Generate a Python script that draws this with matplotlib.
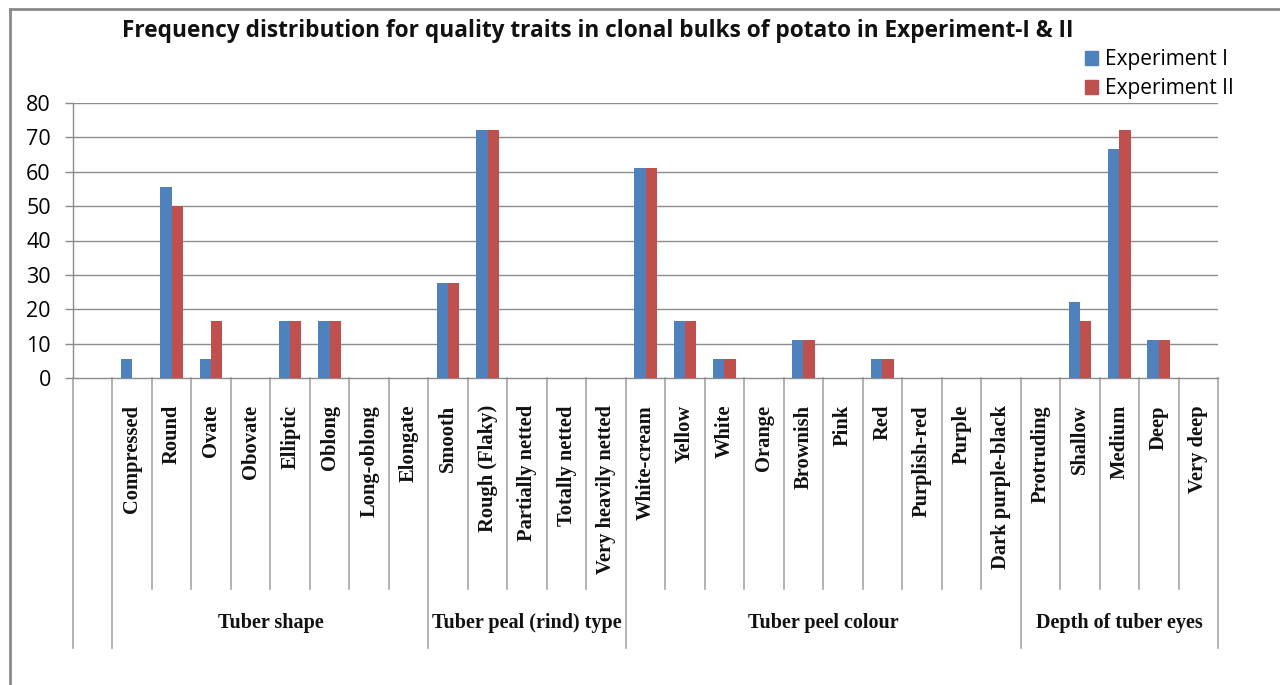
import matplotlib
matplotlib.use("Agg")
import matplotlib.pyplot as plt
import matplotlib.transforms as mtransforms
from matplotlib.patches import Patch

categories = ["", "Compressed", "Round", "Ovate", "Obovate", "Elliptic", "Oblong",
              "Long-oblong", "Elongate", "Smooth", "Rough (Flaky)", "Partially netted",
              "Totally netted", "Very heavily netted", "White-cream", "Yellow", "White",
              "Orange", "Brownish", "Pink", "Red", "Purplish-red", "Purple",
              "Dark purple-black", "Protruding", "Shallow", "Medium", "Deep", "Very deep"]
exp1 = [0, 5.56, 55.56, 5.56, 0, 16.67, 16.67, 0, 0, 27.78, 72.22, 0, 0, 0,
        61.11, 16.67, 5.56, 0, 11.11, 0, 5.56, 0, 0, 0, 0, 22.22, 66.67, 11.11, 0]
exp2 = [0, 0, 50.0, 16.67, 0, 16.67, 16.67, 0, 0, 27.78, 72.22, 0, 0, 0,
        61.11, 16.67, 5.56, 0, 11.11, 0, 5.56, 0, 0, 0, 0, 16.67, 72.22, 11.11, 0]
groups = ["", "Tuber shape", "Tuber peal (rind) type", "Tuber peel colour", "Depth of tuber eyes"]
group_sizes = [1, 8, 5, 10, 5]
series_names = ["Experiment I", "Experiment II"]
yticks = [0, 10, 20, 30, 40, 50, 60, 70, 80]

blue = "#4F81BD"
red = "#C0504D"
grid_c = "#8C8C8C"
serif = ["Liberation Serif", "DejaVu Serif"]
sans = ["Open Sans", "DejaVu Sans"]

fig = plt.figure(figsize=(12.8, 6.85), dpi=100)
W, H = 1280, 685
L, R, T, B = 73, 1218, 103, 378
ax = fig.add_axes([L / W, 1 - B / H, (R - L) / W, (B - T) / H])

n = len(categories)
xs = list(range(n))
bw = 1 / 3.5
ax.bar([x - bw / 2 for x in xs], exp1, width=bw, color=blue, zorder=3)
ax.bar([x + bw / 2 for x in xs], exp2, width=bw, color=red, zorder=3)

ax.set_xlim(-0.5, n - 0.5)
ax.set_ylim(0, 80)
ax.set_yticks(yticks)
ax.set_yticklabels([str(v) for v in yticks], fontfamily=sans, fontsize=15.5)
ax.tick_params(axis="y", length=6, width=1, color=grid_c, pad=10)
ax.set_xticks([])
for v in yticks[1:]:
    ax.axhline(v, color=grid_c, lw=1, zorder=1)
for s in ["top", "right"]:
    ax.spines[s].set_visible(False)
for s in ["left", "bottom"]:
    ax.spines[s].set_color(grid_c)
    ax.spines[s].set_linewidth(1)

trans = mtransforms.blended_transform_factory(ax.transData, ax.transAxes)
ph = B - T
short_y = -(589 - B) / ph
long_y = -(648 - B) / ph
lab_y = -(405 - B) / ph
grp_y = -(623 - B) / ph

bounds = [-0.5]
acc = -0.5
for g in group_sizes:
    acc += g
    bounds.append(acc)
for k in range(n + 1):
    xb = k - 0.5
    ybot = long_y if xb in bounds else short_y
    ax.plot([xb, xb], [0, ybot], transform=trans, color="#A6A6A6", lw=1.2,
            clip_on=False, zorder=2)

for x, c in zip(xs, categories):
    if c:
        ax.text(x, lab_y, c, transform=trans, rotation=90, ha="center", va="top",
                fontfamily=serif, fontweight="bold", fontsize=14.8, color="#111111")

start = 0
for g, sz in zip(groups, group_sizes):
    center = start + (sz - 1) / 2
    if g:
        ax.text(center, grp_y, g, transform=trans, ha="center", va="center",
                fontfamily=serif, fontweight="bold", fontsize=14.5, color="#111111")
    start += sz

fig.text(598 / W, 1 - 31 / H, "Frequency distribution for quality traits in clonal bulks of potato in Experiment-I & II",
         ha="center", va="center", fontfamily=sans, fontweight="bold", fontsize=16.3, color="#111111")

handles = [Patch(color=blue, label=series_names[0]), Patch(color=red, label=series_names[1])]
leg = fig.legend(handles=handles, loc="upper left", bbox_to_anchor=(1075 / W, 1 - 39 / H),
                 frameon=False, prop={"family": sans, "size": 15},
                 handlelength=0.6, handleheight=0.6, handletextpad=0.35, labelspacing=0.38,
                 borderpad=0)

# outer chart frame (top and left edges visible)
fig.add_artist(plt.Line2D([10 / W, 1], [1 - 9 / H, 1 - 9 / H], transform=fig.transFigure,
                          color="#8A8A8A", lw=2))
fig.add_artist(plt.Line2D([10 / W, 10 / W], [1 - 9 / H, 0], transform=fig.transFigure,
                          color="#8A8A8A", lw=2))

fig.savefig("out.png", dpi=100, facecolor="white")
